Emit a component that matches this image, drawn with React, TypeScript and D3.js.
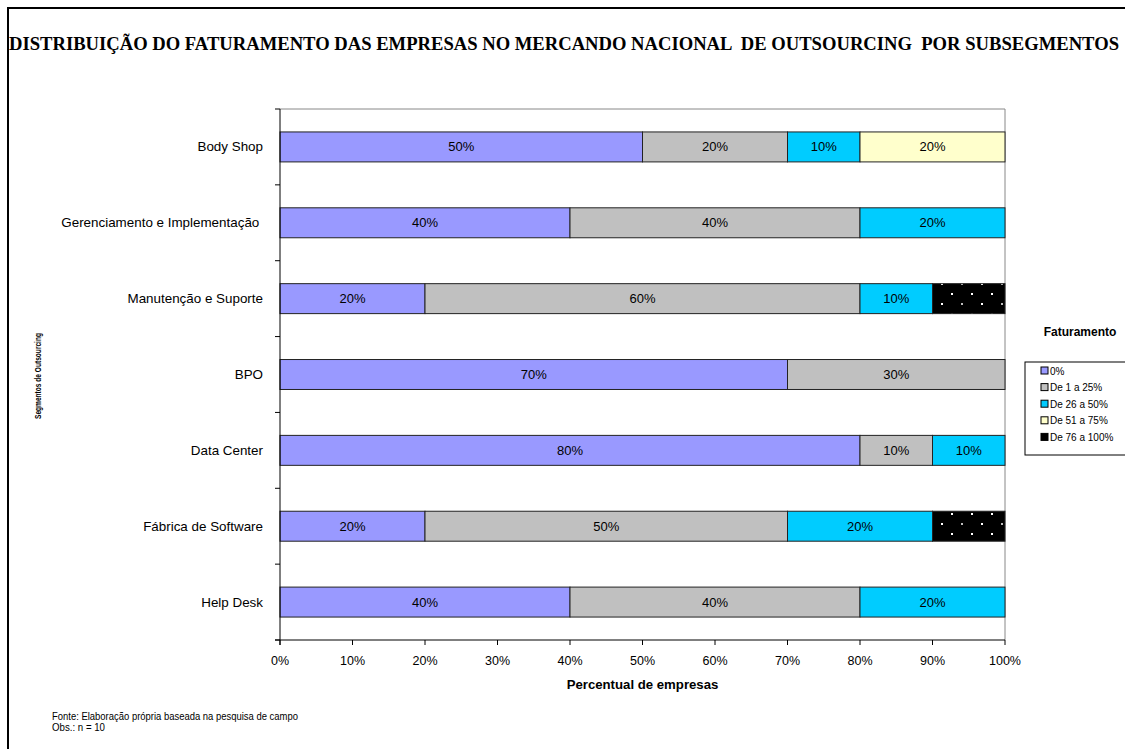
import React, { useEffect, useRef } from "react";
import * as d3 from "d3";

const categories = [
  "Body Shop",
  "Gerenciamento e Implementação ",
  "Manutenção e Suporte",
  "BPO",
  "Data Center",
  "Fábrica de Software",
  "Help Desk",
];
const seriesNames = ["0%", "De 1 a 25%", "De 26 a 50%", "De 51 a 75%", "De 76 a 100%"];
const s0 = [50, 40, 20, 70, 80, 20, 40];
const s1 = [20, 40, 60, 30, 10, 50, 40];
const s2 = [10, 20, 10, 0, 10, 20, 20];
const s3 = [20, 0, 0, 0, 0, 0, 0];
const s4 = [0, 0, 10, 0, 0, 10, 0];
const xTicks = [0, 10, 20, 30, 40, 50, 60, 70, 80, 90, 100];
const colors = ["#9999FF", "#C0C0C0", "#00CCFF", "#FFFFCC", "url(#dots)"];
const legendColors = ["#9999FF", "#C0C0C0", "#00CCFF", "#FFFFCC", "#000000"];

export default function App() {
  const ref = useRef<SVGSVGElement>(null);
  useEffect(() => {
    const svg = d3.select(ref.current);
    svg.selectAll("*").remove();
    const W = 1125, H = 749;
    const left = 280, right = 1005, top = 109, bottom = 640;
    const font = "Arial, 'Liberation Sans', sans-serif";

    const defs = svg.append("defs");
    const pat = defs.append("pattern").attr("id", "dots").attr("patternUnits", "userSpaceOnUse")
      .attr("width", 40).attr("height", 20).attr("x", 0).attr("y", 2);
    pat.append("rect").attr("width", 40).attr("height", 20).attr("fill", "#000");
    [[1, 1, "#bbb"], [21, 1, "#fff"], [11, 11, "#fff"], [31, 11, "#fff"]].forEach(([x, y, c]) => {
      pat.append("rect").attr("x", x as number).attr("y", y as number).attr("width", 2).attr("height", 2).attr("fill", c as string);
    });

    svg.append("rect").attr("width", W).attr("height", H).attr("fill", "#fff");
    svg.append("rect").attr("x", 8).attr("y", 8).attr("width", W + 20).attr("height", H + 20)
      .attr("fill", "none").attr("stroke", "#000").attr("stroke-width", 2);

    // title
    svg.append("text").attr("x", 9).attr("y", 50).attr("xml:space", "preserve").style("white-space", "pre")
      .attr("font-family", "'Liberation Serif', 'Times New Roman', serif").attr("font-weight", "bold")
      .attr("font-size", 19).attr("textLength", 1110).attr("lengthAdjust", "spacingAndGlyphs")
      .text("DISTRIBUIÇÃO DO FATURAMENTO DAS EMPRESAS NO MERCANDO NACIONAL  DE OUTSOURCING  POR SUBSEGMENTOS");

    const x = d3.scaleLinear().domain([0, 100]).range([left, right]);
    const y = d3.scaleBand<string>().domain(categories).range([top, bottom]).paddingInner(0.605).paddingOuter(0.3025);
    const step = (bottom - top) / categories.length;

    svg.append("line").attr("x1", left).attr("x2", right).attr("y1", top).attr("y2", top).attr("stroke", "#888");
    svg.append("line").attr("x1", right).attr("x2", right).attr("y1", top).attr("y2", bottom).attr("stroke", "#888");

    const series = [s0, s1, s2, s3, s4];
    categories.forEach((c, i) => {
      let acc = 0;
      series.forEach((s, k) => {
        const v = s[i];
        if (v > 0) {
          const x0 = x(acc), x1 = x(acc + v);
          svg.append("rect").attr("x", x0).attr("y", y(c)!).attr("width", x1 - x0).attr("height", y.bandwidth())
            .attr("fill", colors[k]).attr("stroke", "#222").attr("stroke-width", 1);
          if (k < 4) {
            svg.append("text").attr("x", (x0 + x1) / 2).attr("y", y(c)! + y.bandwidth() / 2 + 4.5)
              .attr("text-anchor", "middle").attr("font-family", font).attr("font-size", 13).attr("fill", "#000")
              .text(v + "%");
          }
        }
        acc += v;
      });
      svg.append("text").attr("x", 263).attr("y", y(c)! + y.bandwidth() / 2 + 4.5).style("white-space", "pre")
        .attr("text-anchor", "end").attr("font-family", font).attr("font-size", 13.4).text(c);
    });

    // y axis
    svg.append("line").attr("x1", left).attr("x2", left).attr("y1", top).attr("y2", bottom + 5).attr("stroke", "#000");
    d3.range(categories.length + 1).forEach((i) => {
      const yy = top + i * step;
      svg.append("line").attr("x1", left - 5).attr("x2", left).attr("y1", yy).attr("y2", yy).attr("stroke", "#000");
    });
    // x axis
    svg.append("line").attr("x1", left - 5).attr("x2", right).attr("y1", bottom).attr("y2", bottom).attr("stroke", "#000");
    xTicks.forEach((t) => {
      svg.append("line").attr("x1", x(t)).attr("x2", x(t)).attr("y1", bottom).attr("y2", bottom + 5).attr("stroke", "#000");
      svg.append("text").attr("x", x(t)).attr("y", 665).attr("text-anchor", "middle")
        .attr("font-family", font).attr("font-size", 12.5).text(t + "%");
    });

    svg.append("text").attr("x", (left + right) / 2).attr("y", 689).attr("text-anchor", "middle")
      .attr("font-family", font).attr("font-size", 13.2).attr("font-weight", "bold").text("Percentual de empresas");
    svg.append("text").attr("transform", `translate(41,${376}) rotate(-90)`).attr("text-anchor", "middle")
      .attr("font-family", font).attr("font-size", 9).attr("font-weight", "bold")
      .attr("textLength", 86).attr("lengthAdjust", "spacingAndGlyphs").text("Segmentos de Outsourcing");

    // legend
    svg.append("text").attr("x", 1080).attr("y", 336).attr("text-anchor", "middle")
      .attr("font-family", font).attr("font-size", 12).attr("font-weight", "bold").text("Faturamento");
    svg.append("rect").attr("x", 1025).attr("y", 362).attr("width", 120).attr("height", 93)
      .attr("fill", "#fff").attr("stroke", "#000");
    seriesNames.forEach((n, k) => {
      const yy = 371 + k * 16.6;
      svg.append("rect").attr("x", 1041).attr("y", yy - 4).attr("width", 7).attr("height", 7)
        .attr("fill", legendColors[k]).attr("stroke", "#000");
      svg.append("text").attr("x", 1050).attr("y", yy + 3.5).attr("font-family", font).attr("font-size", 10).text(n);
    });

    // footer
    svg.append("text").attr("x", 52).attr("y", 720).attr("font-family", font).attr("font-size", 11)
      .attr("textLength", 246).attr("lengthAdjust", "spacingAndGlyphs")
      .text("Fonte: Elaboração própria baseada na pesquisa de campo");
    svg.append("text").attr("x", 52).attr("y", 731).attr("font-family", font).attr("font-size", 11)
      .attr("textLength", 53).attr("lengthAdjust", "spacingAndGlyphs")
      .text("Obs.: n = 10");
  }, []);
  return (
    <svg ref={ref} width={1125} height={749} style={{ position: "absolute", left: 0, top: 0 }} />
  );
}
